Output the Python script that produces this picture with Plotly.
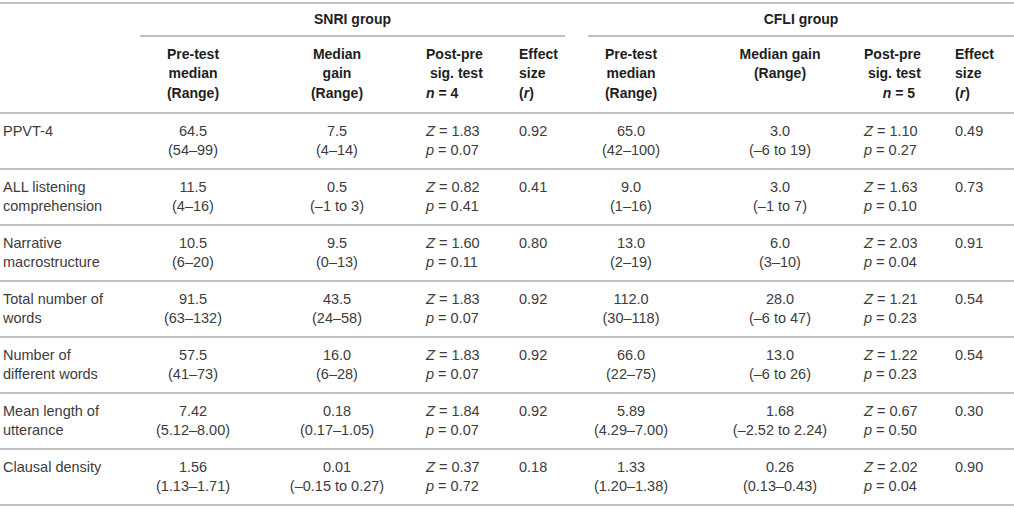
import plotly.graph_objects as go

# ---------------- data ----------------
measures = [
    ["PPVT-4"],
    ["ALL listening", "comprehension"],
    ["Narrative", "macrostructure"],
    ["Total number of", "words"],
    ["Number of", "different words"],
    ["Mean length of", "utterance"],
    ["Clausal density"],
]

snri_pre = ["64.5", "11.5", "10.5", "91.5", "57.5", "7.42", "1.56"]
snri_pre_range = ["54–99", "4–16", "6–20", "63–132", "41–73", "5.12–8.00", "1.13–1.71"]
snri_gain = ["7.5", "0.5", "9.5", "43.5", "16.0", "0.18", "0.01"]
snri_gain_range = ["4–14", "–1 to 3", "0–13", "24–58", "6–28", "0.17–1.05", "–0.15 to 0.27"]
snri_z = ["1.83", "0.82", "1.60", "1.83", "1.83", "1.84", "0.37"]
snri_p = ["0.07", "0.41", "0.11", "0.07", "0.07", "0.07", "0.72"]
snri_r = ["0.92", "0.41", "0.80", "0.92", "0.92", "0.92", "0.18"]

cfli_pre = ["65.0", "9.0", "13.0", "112.0", "66.0", "5.89", "1.33"]
cfli_pre_range = ["42–100", "1–16", "2–19", "30–118", "22–75", "4.29–7.00", "1.20–1.38"]
cfli_gain = ["3.0", "3.0", "6.0", "28.0", "13.0", "1.68", "0.26"]
cfli_gain_range = ["–6 to 19", "–1 to 7", "3–10", "–6 to 47", "–6 to 26", "–2.52 to 2.24", "0.13–0.43"]
cfli_z = ["1.10", "1.63", "2.03", "1.21", "1.22", "0.67", "2.02"]
cfli_p = ["0.27", "0.10", "0.04", "0.23", "0.23", "0.50", "0.04"]
cfli_r = ["0.49", "0.73", "0.91", "0.54", "0.54", "0.30", "0.90"]

groups = ["SNRI group", "CFLI group"]
snri_n = "4"
cfli_n = "5"

# ---------------- layout constants ----------------
W, H = 1014, 509
FONT = "Liberation Sans"
BODY_COLOR = "#3c3c3c"
HEAD_COLOR = "#1e1e1e"
RULE_COLOR = "#ababab"
BODY_SIZE = 14.5
HEAD_SIZE = 14

top_rule = 3
group_rule = 36
head_rule = 113
row_h = 56
line_gap = 19.5
first_line = 19
head_line_y = [55, 74.5, 94]
group_title_y = 20

label_x = 3
col = {
    "snri_pre": 193, "snri_gain": 337, "snri_z": 426, "snri_r": 519,
    "cfli_pre": 631, "cfli_gain": 780, "cfli_z": 864, "cfli_r": 955,
}
sig_width = 51
group_span = {"SNRI group": (140, 565), "CFLI group": (588, W)}

# ---------------- build text items ----------------
items = {"left": [], "center": [], "right": []}
heads = {"left": [], "center": [], "right": []}


def add(store, align, x, y, txt):
    store[align].append((x, y, txt))


n_rows = len(measures)
for i in range(n_rows):
    top = head_rule + i * row_h
    y1 = top + first_line
    y2 = y1 + line_gap
    for k, ln in enumerate(measures[i]):
        add(items, "left", label_x, y1 + k * line_gap, ln)
    add(items, "center", col["snri_pre"], y1, snri_pre[i])
    add(items, "center", col["snri_pre"], y2, "(" + snri_pre_range[i] + ")")
    add(items, "center", col["snri_gain"], y1, snri_gain[i])
    add(items, "center", col["snri_gain"], y2, "(" + snri_gain_range[i] + ")")
    add(items, "left", col["snri_z"], y1, "<i>Z</i> = " + snri_z[i])
    add(items, "left", col["snri_z"], y2, "<i>p</i> = " + snri_p[i])
    add(items, "left", col["snri_r"], y1, snri_r[i])
    add(items, "center", col["cfli_pre"], y1, cfli_pre[i])
    add(items, "center", col["cfli_pre"], y2, "(" + cfli_pre_range[i] + ")")
    add(items, "center", col["cfli_gain"], y1, cfli_gain[i])
    add(items, "center", col["cfli_gain"], y2, "(" + cfli_gain_range[i] + ")")
    add(items, "left", col["cfli_z"], y1, "<i>Z</i> = " + cfli_z[i])
    add(items, "left", col["cfli_z"], y2, "<i>p</i> = " + cfli_p[i])
    add(items, "left", col["cfli_r"], y1, cfli_r[i])

# headers
for g in groups:
    a, b = group_span[g]
    add(heads, "center", (a + b) / 2, group_title_y, g)

hy = head_line_y
for k, t in enumerate(["Pre-test", "median", "(Range)"]):
    add(heads, "center", col["snri_pre"], hy[k], t)
    add(heads, "center", col["cfli_pre"], hy[k], t)
for k, t in enumerate(["Median", "gain", "(Range)"]):
    add(heads, "center", col["snri_gain"], hy[k], t)
for k, t in enumerate(["Median gain", "(Range)"]):
    add(heads, "center", col["cfli_gain"], hy[k], t)
for k, t in enumerate(["Post-pre", "\u00a0sig. test", "<i>n</i> = " + snri_n]):
    add(heads, "left", col["snri_z"], hy[k], t)
add(heads, "left", col["cfli_z"], hy[0], "Post-pre")
add(heads, "left", col["cfli_z"], hy[1], "\u00a0sig. test")
add(heads, "right", col["cfli_z"] + sig_width, hy[2], "<i>n</i> = " + cfli_n)
for k, t in enumerate(["Effect", "size", "(<i>r</i>)"]):
    add(heads, "left", col["snri_r"], hy[k], t)
    add(heads, "left", col["cfli_r"], hy[k], t)

pos_map = {"left": "middle right", "center": "middle center", "right": "middle left"}

fig = go.Figure()

# rules
rx, ry = [], []
for y in [top_rule, head_rule] + [head_rule + (i + 1) * row_h for i in range(n_rows)]:
    rx += [0, W, None]
    ry += [y, y, None]
for g in groups:
    a, b = group_span[g]
    rx += [a, b, None]
    ry += [group_rule, group_rule, None]
fig.add_trace(go.Scatter(x=rx, y=ry, mode="lines",
                         line=dict(color=RULE_COLOR, width=1.4),
                         hoverinfo="skip", showlegend=False))

for align, lst in items.items():
    if not lst:
        continue
    fig.add_trace(go.Scatter(
        x=[p[0] for p in lst], y=[p[1] for p in lst],
        text=[p[2] for p in lst], mode="text",
        textposition=pos_map[align],
        textfont=dict(family=FONT, size=BODY_SIZE, color=BODY_COLOR),
        hoverinfo="skip", showlegend=False))

for align, lst in heads.items():
    if not lst:
        continue
    fig.add_trace(go.Scatter(
        x=[p[0] for p in lst], y=[p[1] for p in lst],
        text=["<b>" + p[2] + "</b>" for p in lst], mode="text",
        textposition=pos_map[align],
        textfont=dict(family=FONT, size=HEAD_SIZE, color=HEAD_COLOR),
        hoverinfo="skip", showlegend=False))

fig.update_layout(
    width=W, height=H,
    margin=dict(l=0, r=0, t=0, b=0),
    paper_bgcolor="white", plot_bgcolor="white",
    xaxis=dict(range=[0, W], visible=False, fixedrange=True),
    yaxis=dict(range=[H, 0], visible=False, fixedrange=True),
)

fig.write_html("out.html", post_script="document.body.style.margin='0';",
               config={"displayModeBar": False})
